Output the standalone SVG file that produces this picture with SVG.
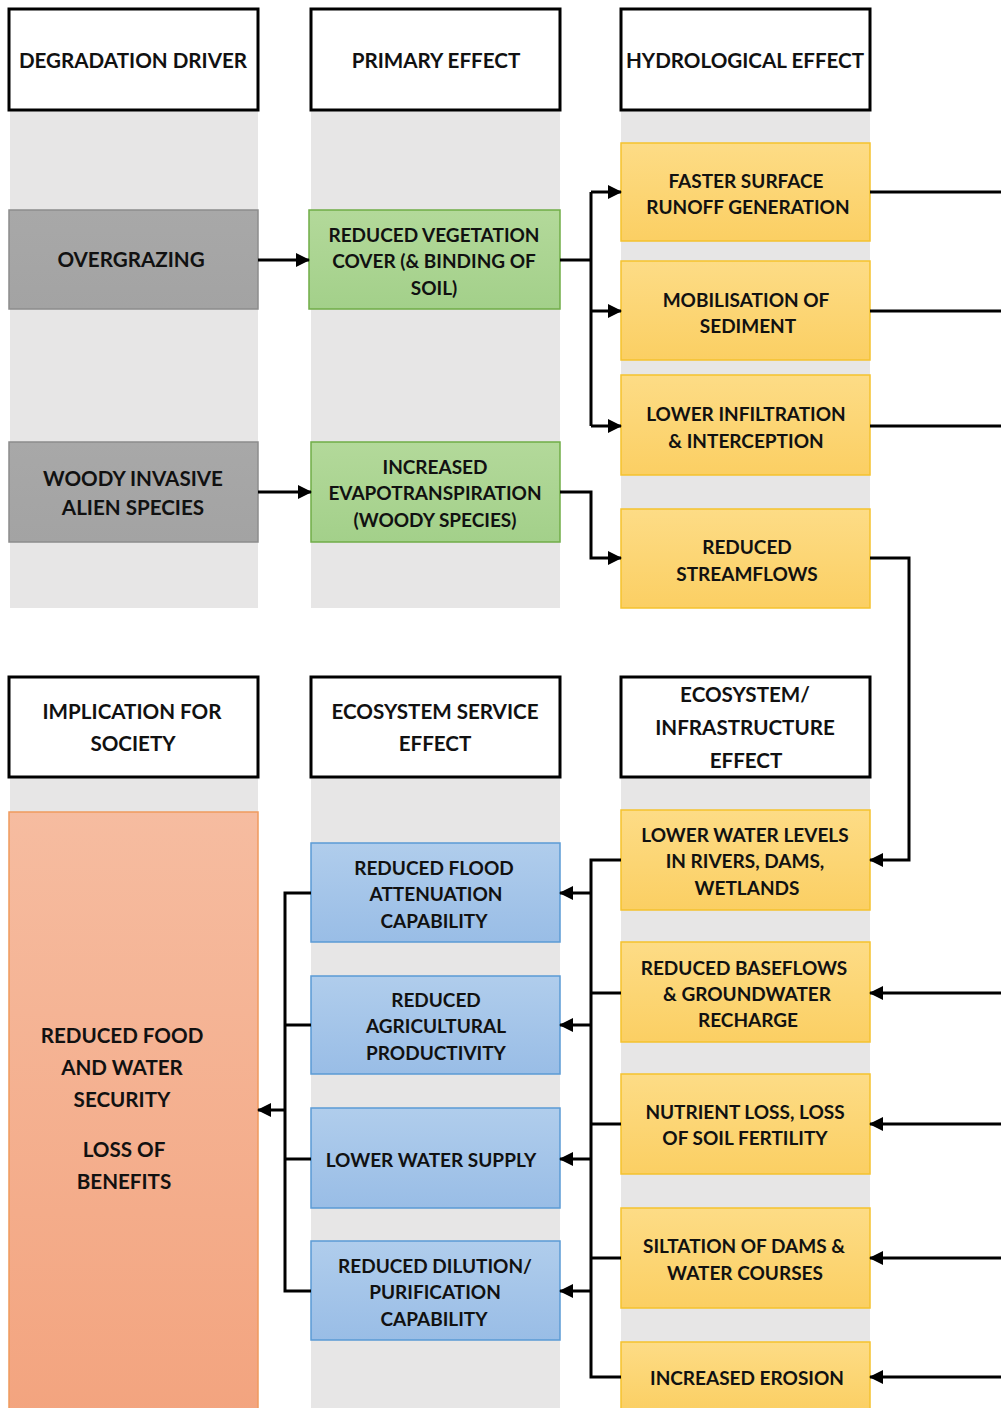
<svg xmlns="http://www.w3.org/2000/svg" width="1001" height="1408" viewBox="0 0 1001 1408">
<style>
.band{fill:#e7e6e6}
.hdr{fill:#fff;stroke:#000;stroke-width:3}
.t{font-family:Lato,"Open Sans","Liberation Sans",sans-serif;font-weight:bold;font-size:19px;fill:#111;text-anchor:middle}
.L{font-size:20.6px}
.gray{fill:url(#gGray);stroke:#8c8c8c;stroke-width:1.5}
.green{fill:url(#gGreen);stroke:#70ad47;stroke-width:1.5}
.yel{fill:url(#gYel);stroke:#f5c22e;stroke-width:1.5}
.blue{fill:url(#gBlue);stroke:#5b9bd5;stroke-width:1.5}
.org{fill:url(#gOrg);stroke:#f09a5e;stroke-width:1.5}
.c{fill:none;stroke:#000;stroke-width:3}
.ca{fill:none;stroke:#000;stroke-width:3;marker-end:url(#ah)}
</style>
<defs>
<marker id="ah" markerUnits="userSpaceOnUse" markerWidth="14" markerHeight="14" viewBox="0 0 14 14" refX="13" refY="7" orient="auto">
<path d="M0,0 L14,7 L0,14 z" fill="#000"/>
</marker>
<linearGradient id="gGray" x1="0" y1="0" x2="0" y2="1"><stop offset="0" stop-color="#a8a8a8"/><stop offset="1" stop-color="#a3a3a3"/></linearGradient>
<linearGradient id="gGreen" x1="0" y1="0" x2="0" y2="1"><stop offset="0" stop-color="#b3d99a"/><stop offset="1" stop-color="#a3d08a"/></linearGradient>
<linearGradient id="gYel" x1="0" y1="0" x2="0" y2="1"><stop offset="0" stop-color="#fddc86"/><stop offset="1" stop-color="#fbcf63"/></linearGradient>
<linearGradient id="gBlue" x1="0" y1="0" x2="0" y2="1"><stop offset="0" stop-color="#b0cdec"/><stop offset="1" stop-color="#99bde6"/></linearGradient>
<linearGradient id="gOrg" x1="0" y1="0" x2="0" y2="1"><stop offset="0" stop-color="#f6bca0"/><stop offset="1" stop-color="#f3a47f"/></linearGradient>
</defs>
<rect width="1001" height="1408" fill="#fff"/>

<g id="bands">
<rect class="band" x="10" y="110" width="248" height="498"/>
<rect class="band" x="311" y="110" width="249" height="498"/>
<rect class="band" x="621" y="110" width="249" height="498"/>
<rect class="band" x="10" y="777" width="248" height="40"/>
<rect class="band" x="311" y="777" width="249" height="631"/>
<rect class="band" x="621" y="777" width="249" height="631"/>
</g>

<g id="h-driver"><rect class="hdr" x="9" y="9" width="249" height="101"/><text class="t L" x="133" y="68">DEGRADATION DRIVER</text></g>
<g id="h-primary"><rect class="hdr" x="311" y="9" width="249" height="101"/><text class="t L" x="436" y="68">PRIMARY EFFECT</text></g>
<g id="h-hydro"><rect class="hdr" x="621" y="9" width="249" height="101"/><text class="t L" x="745" y="68">HYDROLOGICAL EFFECT</text></g>

<g id="n-overgrazing"><rect class="gray" x="9" y="210" width="249" height="99"/><text class="t L" x="131" y="267">OVERGRAZING</text></g>
<g id="n-woody"><rect class="gray" x="9" y="442" width="249" height="100"/><text class="t L" x="133" y="486">WOODY INVASIVE</text><text class="t L" x="133" y="515">ALIEN SPECIES</text></g>

<g id="n-vegcover"><rect class="green" x="309" y="210" width="251" height="99"/><text class="t" x="434" y="242">REDUCED VEGETATION</text><text class="t" x="434" y="268">COVER (&amp; BINDING OF</text><text class="t" x="434" y="295">SOIL)</text></g>
<g id="n-evapo"><rect class="green" x="311" y="442" width="249" height="100"/><text class="t" x="435" y="474">INCREASED</text><text class="t" x="435" y="500">EVAPOTRANSPIRATION</text><text class="t" x="435" y="527">(WOODY SPECIES)</text></g>

<g id="n-runoff"><rect class="yel" x="621" y="143" width="249" height="98"/><text class="t" x="746" y="188">FASTER  SURFACE</text><text class="t" x="748" y="214">RUNOFF  GENERATION</text></g>
<g id="n-sediment"><rect class="yel" x="621" y="261" width="249" height="99"/><text class="t" x="746" y="307">MOBILISATION OF</text><text class="t" x="748" y="333">SEDIMENT</text></g>
<g id="n-infiltration"><rect class="yel" x="621" y="375" width="249" height="100"/><text class="t" x="746" y="421">LOWER  INFILTRATION</text><text class="t" x="746" y="448">&amp; INTERCEPTION</text></g>
<g id="n-streamflows"><rect class="yel" x="621" y="509" width="249" height="99"/><text class="t" x="747" y="554">REDUCED</text><text class="t" x="747" y="581">STREAMFLOWS</text></g>

<g id="h-society"><rect class="hdr" x="9" y="677" width="249" height="100"/><text class="t L" x="132" y="719">IMPLICATION FOR</text><text class="t L" x="133" y="751">SOCIETY</text></g>
<g id="h-service"><rect class="hdr" x="311" y="677" width="249" height="100"/><text class="t L" x="435" y="719">ECOSYSTEM SERVICE</text><text class="t L" x="435" y="751">EFFECT</text></g>
<g id="h-infra"><rect class="hdr" x="621" y="677" width="249" height="100"/><text class="t L" x="745" y="702">ECOSYSTEM/</text><text class="t L" x="745" y="735">INFRASTRUCTURE</text><text class="t L" x="746" y="768">EFFECT</text></g>

<g id="n-society"><rect class="org" x="9" y="812" width="249" height="600"/><text class="t L" x="122" y="1043">REDUCED FOOD</text><text class="t L" x="122" y="1075">AND WATER</text><text class="t L" x="122" y="1107">SECURITY</text><text class="t L" x="124" y="1157">LOSS OF</text><text class="t L" x="124" y="1189">BENEFITS</text></g>

<g id="n-flood"><rect class="blue" x="311" y="843" width="249" height="99"/><text class="t" x="434" y="875">REDUCED FLOOD</text><text class="t" x="436" y="901">ATTENUATION</text><text class="t" x="434" y="928">CAPABILITY</text></g>
<g id="n-agri"><rect class="blue" x="311" y="976" width="249" height="98"/><text class="t" x="436" y="1007">REDUCED</text><text class="t" x="436" y="1033">AGRICULTURAL</text><text class="t" x="436" y="1060">PRODUCTIVITY</text></g>
<g id="n-supply"><rect class="blue" x="311" y="1108" width="249" height="100"/><text class="t" x="431" y="1167">LOWER WATER SUPPLY</text></g>
<g id="n-dilution"><rect class="blue" x="311" y="1241" width="249" height="99"/><text class="t" x="435" y="1273">REDUCED DILUTION/</text><text class="t" x="435" y="1299">PURIFICATION</text><text class="t" x="434" y="1326">CAPABILITY</text></g>

<g id="n-waterlevels"><rect class="yel" x="621" y="810" width="249" height="100"/><text class="t" x="745" y="842">LOWER WATER  LEVELS</text><text class="t" x="745" y="868">IN RIVERS, DAMS,</text><text class="t" x="747" y="895">WETLANDS</text></g>
<g id="n-baseflows"><rect class="yel" x="621" y="942" width="249" height="100"/><text class="t" x="744" y="975">REDUCED BASEFLOWS</text><text class="t" x="747" y="1001">&amp; GROUNDWATER</text><text class="t" x="748" y="1027">RECHARGE</text></g>
<g id="n-nutrient"><rect class="yel" x="621" y="1074" width="249" height="100"/><text class="t" x="745" y="1119">NUTRIENT  LOSS, LOSS</text><text class="t" x="745" y="1145">OF SOIL FERTILITY</text></g>
<g id="n-siltation"><rect class="yel" x="621" y="1208" width="249" height="100"/><text class="t" x="744" y="1253">SILTATION OF DAMS &amp;</text><text class="t" x="745" y="1280">WATER COURSES</text></g>
<g id="n-erosion"><rect class="yel" x="621" y="1342" width="249" height="70"/><text class="t" x="747" y="1385">INCREASED  EROSION</text></g>

<g id="connectors">
<path class="ca" d="M258,260 H309"/>
<path class="ca" d="M258,492 H311"/>
<path class="c" d="M560,260 H591"/>
<path class="c" d="M591,192 V426"/>
<path class="ca" d="M591,192 H621"/>
<path class="ca" d="M591,311 H621"/>
<path class="ca" d="M591,426 H621"/>
<path class="ca" d="M560,492 H591 V558 H621"/>
<path class="c" d="M870,192 H1001"/>
<path class="c" d="M870,311 H1001"/>
<path class="c" d="M870,426 H1001"/>
<path class="ca" d="M870,558 H909 V860 H870"/>
<path class="ca" d="M1001,993 H870"/>
<path class="ca" d="M1001,1124 H870"/>
<path class="ca" d="M1001,1258 H870"/>
<path class="ca" d="M1001,1377 H870"/>
<path class="c" d="M621,860 H591 V1377 H621"/>
<path class="c" d="M621,993 H591"/>
<path class="c" d="M621,1124 H591"/>
<path class="c" d="M621,1258 H591"/>
<path class="ca" d="M591,893 H560"/>
<path class="ca" d="M591,1025 H560"/>
<path class="ca" d="M591,1159 H560"/>
<path class="ca" d="M591,1291 H560"/>
<path class="c" d="M311,893 H285 V1291 H311"/>
<path class="c" d="M311,1025 H285"/>
<path class="c" d="M311,1159 H285"/>
<path class="ca" d="M285,1110 H258"/>
</g>
</svg>
